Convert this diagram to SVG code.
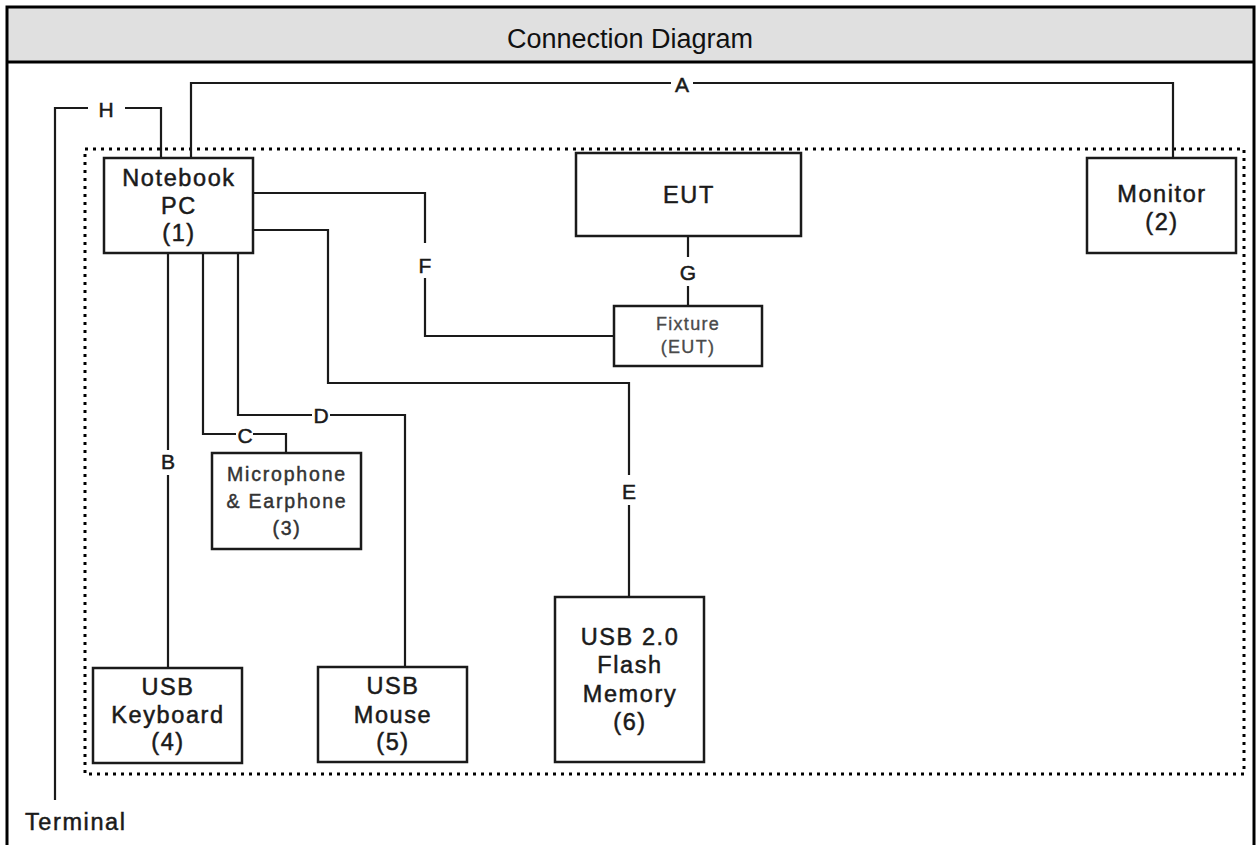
<svg xmlns="http://www.w3.org/2000/svg" width="1256" height="845" viewBox="0 0 1256 845">
  <style>
    .frame { fill: none; stroke: #000; stroke-width: 3; }
    .box { fill: #fff; stroke: #1a1a1a; stroke-width: 2.5; }
    .wire { fill: none; stroke: #1a1a1a; stroke-width: 2.2; }
    .zone { fill: none; stroke: #000; stroke-width: 3; stroke-dasharray: 3 5; }
    .t { font-family: "Liberation Sans", Arial, sans-serif; font-size: 23.5px; letter-spacing: 1.6px; fill: #1a1a1a; stroke: #1a1a1a; stroke-width: 0.5; text-anchor: middle; }
    .s { font-family: "Liberation Sans", Arial, sans-serif; font-size: 19.5px; letter-spacing: 1.8px; fill: #333; stroke: #333; stroke-width: 0.45; text-anchor: middle; }
    .f { font-family: "Liberation Sans", Arial, sans-serif; font-size: 18px; letter-spacing: 1.3px; fill: #4a4a4a; stroke: #4a4a4a; stroke-width: 0.35; text-anchor: middle; }
    .lbl { font-family: "Liberation Sans", Arial, sans-serif; font-size: 21px; fill: #1a1a1a; stroke: #1a1a1a; stroke-width: 0.5; text-anchor: middle; }
    .gap { fill: #fff; }
  </style>

  <!-- page frame and title bar -->
  <g id="title">
    <rect x="7" y="7" width="1247" height="55" fill="#e0e0e0"/>
    <rect class="frame" x="7" y="7" width="1247" height="850"/>
    <line x1="7" y1="62" x2="1254" y2="62" stroke="#000" stroke-width="3"/>
    <text x="630" y="48" font-family="Liberation Sans, Arial, sans-serif" font-size="27" text-anchor="middle" fill="#111">Connection Diagram</text>
  </g>

  <!-- test area boundary -->
  <rect id="test-area" class="zone" x="85" y="149" width="1159" height="625"/>

  <!-- cables -->
  <g id="connectors">
    <!-- A: notebook to monitor -->
    <polyline class="wire" points="191,158 191,83 1173,83 1173,158"/>
    <!-- H: notebook to terminal -->
    <polyline class="wire" points="161,158 161,108 55,108 55,800"/>
    <!-- B: keyboard -->
    <line class="wire" x1="168" y1="253" x2="168" y2="668"/>
    <!-- C: microphone & earphone -->
    <polyline class="wire" points="203,253 203,434 286,434 286,453"/>
    <!-- D: mouse -->
    <polyline class="wire" points="238,253 238,415 405,415 405,667"/>
    <!-- E: flash memory -->
    <polyline class="wire" points="253,230 328,230 328,383 629,383 629,597"/>
    <!-- F: fixture -->
    <polyline class="wire" points="253,193 425,193 425,336 613,336"/>
    <!-- G: EUT to fixture -->
    <line class="wire" x1="688" y1="236" x2="688" y2="306"/>

    <!-- cable labels -->
    <rect class="gap" x="671" y="76" width="22" height="16"/>
    <text class="lbl" x="682" y="92">A</text>
    <rect class="gap" x="88" y="100" width="37" height="18"/>
    <text class="lbl" x="106" y="117">H</text>
    <rect class="gap" x="160" y="450" width="16" height="25"/>
    <text class="lbl" x="168" y="469">B</text>
    <rect class="gap" x="236" y="427" width="17" height="16"/>
    <text class="lbl" x="245" y="443">C</text>
    <rect class="gap" x="312" y="407" width="18" height="16"/>
    <text class="lbl" x="321" y="423">D</text>
    <rect class="gap" x="621" y="475" width="16" height="30"/>
    <text class="lbl" x="629" y="499">E</text>
    <rect class="gap" x="417" y="243" width="16" height="35"/>
    <text class="lbl" x="425" y="273">F</text>
    <rect class="gap" x="679" y="257" width="18" height="29"/>
    <text class="lbl" x="688" y="280">G</text>
  </g>

  <g id="notebook-pc">
    <rect class="box" x="104" y="158" width="149" height="95"/>
    <text class="t" x="179" y="186">Notebook</text>
    <text class="t" x="179" y="214">PC</text>
    <text class="t" x="179" y="241">(1)</text>
  </g>

  <g id="eut">
    <rect class="box" x="576" y="153" width="225" height="83"/>
    <text class="t" x="689" y="203">EUT</text>
  </g>

  <g id="monitor">
    <rect class="box" x="1087" y="158" width="149" height="95"/>
    <text class="t" x="1162" y="202">Monitor</text>
    <text class="t" x="1162" y="230">(2)</text>
  </g>

  <g id="fixture">
    <rect class="box" x="614" y="306" width="148" height="60"/>
    <text class="f" x="688" y="330">Fixture</text>
    <text class="f" x="688" y="353">(EUT)</text>
  </g>

  <g id="microphone-earphone">
    <rect class="box" x="212" y="453" width="149" height="96"/>
    <text class="s" x="287" y="481">Microphone</text>
    <text class="s" x="287" y="508">&amp; Earphone</text>
    <text class="s" x="287" y="535">(3)</text>
  </g>

  <g id="usb-keyboard">
    <rect class="box" x="93" y="668" width="149" height="95"/>
    <text class="t" x="168" y="695">USB</text>
    <text class="t" x="168" y="723">Keyboard</text>
    <text class="t" x="168" y="750">(4)</text>
  </g>

  <g id="usb-mouse">
    <rect class="box" x="318" y="667" width="149" height="95"/>
    <text class="t" x="393" y="694">USB</text>
    <text class="t" x="393" y="723">Mouse</text>
    <text class="t" x="393" y="750">(5)</text>
  </g>

  <g id="usb-flash-memory">
    <rect class="box" x="555" y="597" width="149" height="165"/>
    <text class="t" x="630" y="645">USB 2.0</text>
    <text class="t" x="630" y="673">Flash</text>
    <text class="t" x="630" y="702">Memory</text>
    <text class="t" x="630" y="730">(6)</text>
  </g>

  <g id="terminal">
    <text class="t" x="25" y="830" style="text-anchor:start">Terminal</text>
  </g>
</svg>
